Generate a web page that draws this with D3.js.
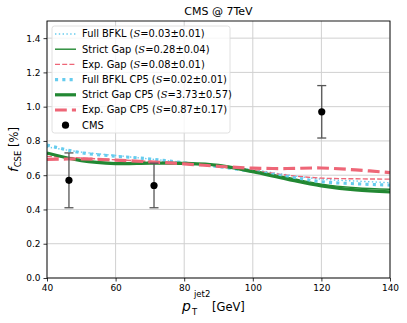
<!DOCTYPE html>
<html>
<head>
<meta charset="utf-8">
<script src="https://cdn.jsdelivr.net/npm/d3@7"></script>
<style>
  body { margin: 0; background: #fff; }
  text { font-family: "DejaVu Sans", sans-serif; }
</style>
</head>
<body>
<script>
// valeurs
const ptValues = [40, 50, 60, 70, 80, 90, 100, 110, 120, 130, 140];
const fullBfkl     = [0.765, 0.735, 0.715, 0.695, 0.675, 0.655, 0.632, 0.602, 0.577, 0.566, 0.556];
const strictGap    = [0.725, 0.688, 0.672, 0.673, 0.671, 0.658, 0.628, 0.588, 0.548, 0.527, 0.518];
const expGap       = [0.710, 0.700, 0.690, 0.680, 0.670, 0.652, 0.628, 0.600, 0.583, 0.579, 0.577];
const fullBfklCP5  = [0.776, 0.731, 0.711, 0.695, 0.672, 0.650, 0.622, 0.592, 0.562, 0.550, 0.542];
const strictGapCP5 = [0.730, 0.685, 0.668, 0.670, 0.669, 0.657, 0.620, 0.577, 0.538, 0.514, 0.503];
const expGapCP5    = [0.692, 0.695, 0.688, 0.678, 0.666, 0.652, 0.641, 0.639, 0.642, 0.631, 0.615];

const cmsPt  = [46.4, 71.2, 120.1];
const cmsVal = [0.57, 0.54, 0.97];
const cmsErr = [0.16, 0.13, 0.153];

const xTicks = [40, 60, 80, 100, 120, 140];
const yTicks = [0, 0.2, 0.4, 0.6, 0.8, 1.0, 1.2, 1.4];

const series = [
  { name: "Full BFKL",      s: "0.03±0.01", vals: fullBfkl,     color: "#66CCEE", w: 1.4, dash: "1.4,2.4" },
  { name: "Strict Gap",     s: "0.28±0.04", vals: strictGap,    color: "#228833", w: 1.4, dash: null },
  { name: "Exp. Gap",       s: "0.08±0.01", vals: expGap,       color: "#EE6677", w: 1.4, dash: "5,2.2" },
  { name: "Full BFKL CP5",  s: "0.02±0.01", vals: fullBfklCP5,  color: "#66CCEE", w: 3.1, dash: "3.1,4.2" },
  { name: "Strict Gap CP5", s: "3.73±0.57", vals: strictGapCP5, color: "#228833", w: 3.2, dash: null },
  { name: "Exp. Gap CP5",   s: "0.87±0.17", vals: expGapCP5,    color: "#EE6677", w: 3.2, dash: "11.8,5.1" }
];

const W = 407, H = 323;
const margin = { top: 21, right: 17, bottom: 45, left: 47 };
const width = W - margin.left - margin.right;
const height = H - margin.top - margin.bottom;

const svg = d3.select("body").append("svg")
  .attr("width", W).attr("height", H);
const g = svg.append("g")
  .attr("transform", "translate(" + margin.left + "," + margin.top + ")");

const x = d3.scaleLinear().domain([40, 140]).range([0, width]);
const y = d3.scaleLinear().domain([0, 1.5]).range([height, 0]);

// grille
g.append("g")
  .selectAll("line.vg").data(xTicks).enter().append("line")
  .attr("x1", d => x(d)).attr("x2", d => x(d))
  .attr("y1", 0).attr("y2", height)
  .attr("stroke", "#d0d0d0").attr("stroke-width", 1);
g.append("g")
  .selectAll("line.hg").data(yTicks).enter().append("line")
  .attr("x1", 0).attr("x2", width)
  .attr("y1", d => y(d)).attr("y2", d => y(d))
  .attr("stroke", "#d0d0d0").attr("stroke-width", 1);

// courbes
const line = d3.line()
  .x((d, i) => x(ptValues[i]))
  .y(d => y(d))
  .curve(d3.curveCatmullRom);

g.append("clipPath").attr("id", "clip")
  .append("rect").attr("width", width).attr("height", height);

series.forEach(s => {
  g.append("path")
    .attr("clip-path", "url(#clip)")
    .attr("d", line(s.vals))
    .attr("fill", "none")
    .attr("stroke", s.color)
    .attr("stroke-width", s.w)
    .attr("stroke-dasharray", s.dash);
});

// points CMS
const cms = cmsPt.map((p, i) => ({ p: p, v: cmsVal[i], e: cmsErr[i] }));
g.selectAll(".err").data(cms).enter().append("line")
  .attr("x1", d => x(d.p)).attr("x2", d => x(d.p))
  .attr("y1", d => y(d.v - d.e)).attr("y2", d => y(d.v + d.e))
  .attr("stroke", "#555").attr("stroke-width", 1.3);
[-1, 1].forEach(sgn => {
  g.selectAll(".cap" + sgn).data(cms).enter().append("line")
    .attr("x1", d => x(d.p) - 4.5).attr("x2", d => x(d.p) + 4.5)
    .attr("y1", d => y(d.v + sgn * d.e)).attr("y2", d => y(d.v + sgn * d.e))
    .attr("stroke", "#555").attr("stroke-width", 1.3);
});
g.selectAll(".pt").data(cms).enter().append("circle")
  .attr("cx", d => x(d.p)).attr("cy", d => y(d.v))
  .attr("r", 3.6).attr("fill", "#000");

// axes
const xAxis = g.append("g")
  .attr("transform", "translate(0," + height + ")")
  .call(d3.axisBottom(x).tickValues(xTicks).tickSize(3.5).tickPadding(3));
const yAxis = g.append("g")
  .call(d3.axisLeft(y).tickValues(yTicks).tickFormat(d3.format(".1f")).tickSize(3.5).tickPadding(3));
[xAxis, yAxis].forEach(a => {
  a.select(".domain").remove();
  a.selectAll("text").style("font-size", "9px").attr("fill", "#000");
  a.selectAll("line").attr("stroke", "#000").attr("stroke-width", 0.8);
});

g.append("rect")
  .attr("width", width).attr("height", height)
  .attr("fill", "none").attr("stroke", "#000").attr("stroke-width", 0.9);

// légende
const leg = g.append("g").attr("transform", "translate(5,5)");
leg.append("rect")
  .attr("width", 178).attr("height", 107)
  .attr("rx", 2.5)
  .attr("fill", "#fff").attr("fill-opacity", 0.8)
  .attr("stroke", "#dcdcdc").attr("stroke-width", 0.9);
series.forEach((s, i) => {
  const yy = 8 + i * 15.2;
  leg.append("line")
    .attr("x1", 3).attr("x2", 24)
    .attr("y1", yy).attr("y2", yy)
    .attr("stroke", s.color).attr("stroke-width", s.w)
    .attr("stroke-dasharray", s.dash);
  const t = leg.append("text")
    .attr("x", 30).attr("y", yy).attr("dy", "0.35em")
    .style("font-size", "9.9px");
  t.append("tspan").text(s.name + " (");
  t.append("tspan").style("font-family", "DejaVu Serif").style("font-style", "italic").text("S");
  t.append("tspan").text("=" + s.s + ")");
});
{
  const yy = 8 + 6 * 15.2;
  leg.append("circle").attr("cx", 13.5).attr("cy", yy).attr("r", 3.6).attr("fill", "#000");
  leg.append("text").attr("x", 30).attr("y", yy).attr("dy", "0.35em")
    .style("font-size", "9.9px").text("CMS");
}

// titre
svg.append("text")
  .attr("x", margin.left + width / 2).attr("y", 15)
  .attr("text-anchor", "middle")
  .style("font-size", "11px")
  .text("CMS @ 7TeV");

// label axe x
svg.append("text").attr("x", 182).attr("y", 311)
  .style("font-size", "14px").style("font-style", "italic").text("p");
svg.append("text").attr("x", 192).attr("y", 315)
  .style("font-size", "8.5px").text("T");
svg.append("text").attr("x", 194).attr("y", 297)
  .style("font-size", "8.5px").text("jet2");
svg.append("text").attr("x", 212).attr("y", 311)
  .style("font-size", "11.5px").text("[GeV]");

// label axe y
const yl = svg.append("text")
  .attr("transform", "translate(18," + (margin.top + height / 2) + ") rotate(-90)")
  .attr("text-anchor", "middle")
  .style("font-size", "11.5px");
yl.append("tspan").style("font-style", "italic").style("font-size", "13px").text("f");
yl.append("tspan").attr("dy", 3).style("font-size", "8.5px").text("CSE");
yl.append("tspan").attr("dy", -3).text(" [%]");
</script>
</body>
</html>
